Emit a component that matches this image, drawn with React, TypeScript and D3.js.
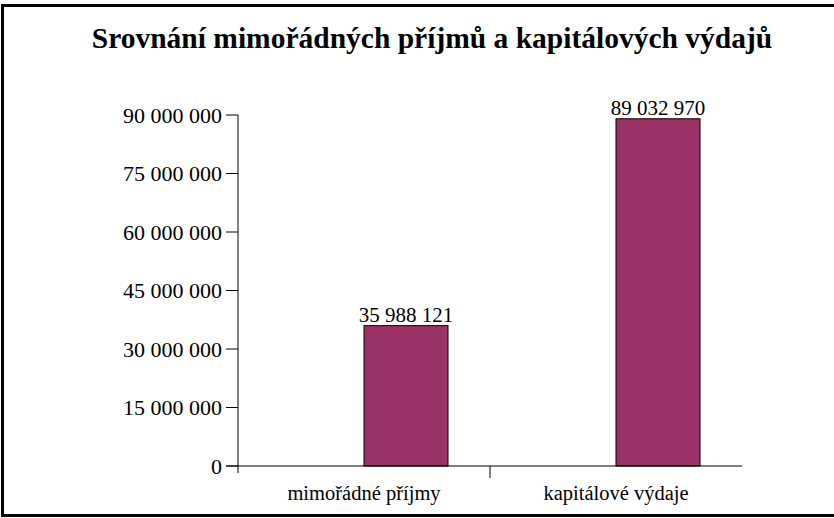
import * as d3 from 'd3'

const categories = ['mimořádné příjmy', 'kapitálové výdaje']
const values = [35988121, 89032970]
const yTicks = [0, 15000000, 30000000, 45000000, 60000000, 75000000, 90000000]
const title = 'Srovnání mimořádných příjmů a kapitálových výdajů'

const W = 834
const H = 518
const margin = { left: 238, right: 92, top: 115, bottom: 52 }
const font = '"Liberation Serif", "Times New Roman", serif'

const fmt = (v: number) => d3.format(',')(v).replace(/,/g, ' ')

export default function App() {
  const x = d3
    .scaleBand<string>()
    .domain(categories)
    .range([margin.left, W - margin.right])
    .padding(0)
  // two slots per category, the visible series sits in the right one
  const slot = d3
    .scaleBand<string>()
    .domain(['empty', 'value'])
    .range([0, x.bandwidth()])
    .paddingInner(0)
    .paddingOuter(0.5)
  const y = d3
    .scaleLinear()
    .domain([0, 90000000])
    .range([H - margin.bottom, margin.top])

  const y0 = y(0)

  return (
    <svg
      width={W}
      height={H}
      style={{ position: 'absolute', left: 0, top: 0, background: '#fff' }}
      fontFamily={font}
    >
      <rect x={0} y={0} width={W} height={H} fill="#fff" />
      {/* frame */}
      <line x1={2} y1={5.5} x2={W} y2={5.5} stroke="#000" strokeWidth={3} />
      <line x1={2.5} y1={4} x2={2.5} y2={H - 2} stroke="#000" strokeWidth={3} />
      <line x1={1} y1={H - 2.5} x2={W} y2={H - 2.5} stroke="#000" strokeWidth={3} />

      <text
        x={432}
        y={48}
        textAnchor="middle"
        fontSize={29.5}
        fontWeight="bold"
      >
        {title}
      </text>

      {/* bars */}
      {categories.map((c, i) => {
        const bx = (x(c) ?? 0) + (slot('value') ?? 0)
        const by = y(values[i])
        return (
          <g key={c}>
            <rect
              x={bx}
              y={by}
              width={slot.bandwidth()}
              height={y0 - by}
              fill="#993366"
              stroke="#000"
              strokeWidth={1}
            />
            <text
              x={bx + slot.bandwidth() / 2}
              y={by - 4}
              textAnchor="middle"
              fontSize={21}
            >
              {fmt(values[i])}
            </text>
          </g>
        )
      })}

      {/* y axis */}
      <line x1={margin.left} y1={y(90000000)} x2={margin.left} y2={y0 + 7} stroke="#000" />
      {yTicks.map(t => (
        <g key={t}>
          <line x1={margin.left - 12} y1={y(t)} x2={margin.left} y2={y(t)} stroke="#000" />
          <text
            x={margin.left - 16}
            y={y(t)}
            dy="0.35em"
            textAnchor="end"
            fontSize={22}
          >
            {fmt(t)}
          </text>
        </g>
      ))}

      {/* x axis */}
      <line x1={margin.left - 12} y1={y0} x2={W - margin.right} y2={y0} stroke="#000" />
      {categories.map((c, i) =>
        i > 0 ? (
          <line
            key={c}
            x1={x(c) ?? 0}
            y1={y0}
            x2={x(c) ?? 0}
            y2={y0 + 12}
            stroke="#000"
          />
        ) : null
      )}
      {categories.map(c => (
        <text
          key={c}
          x={(x(c) ?? 0) + x.bandwidth() / 2}
          y={y0 + 34}
          textAnchor="middle"
          fontSize={20.5}
        >
          {c}
        </text>
      ))}
    </svg>
  )
}
